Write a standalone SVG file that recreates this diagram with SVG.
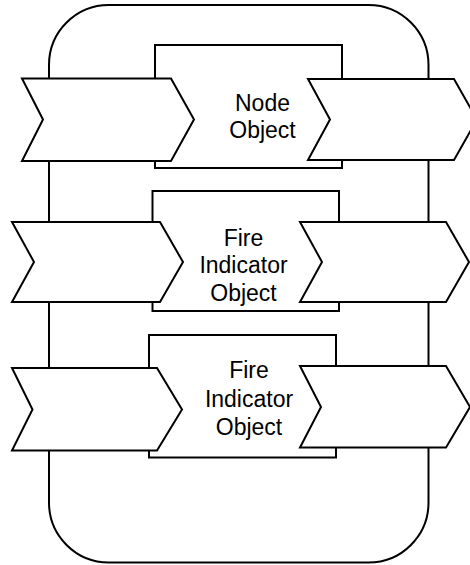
<svg xmlns="http://www.w3.org/2000/svg" width="470" height="565" viewBox="0 0 470 565">
<style>
.s{fill:#fff;stroke:#000;stroke-width:2;stroke-linejoin:miter}
.t{font-family:"Liberation Sans",Arial,sans-serif;font-size:23px;fill:#000;text-anchor:middle}
</style>
<rect width="470" height="565" fill="#fff"/>
<g id="container">
<rect class="s" x="49" y="5" width="379.5" height="557.5" rx="60" ry="60"/>
</g>
<g id="node-object">
<rect class="s" x="155" y="45" width="187" height="123"/>
<text class="t" x="262.5" y="110.5">Node</text>
<text class="t" x="262.5" y="138">Object</text>
</g>
<g id="fire-indicator-1">
<rect class="s" x="152.5" y="191" width="186.5" height="120"/>
<text class="t" x="243.5" y="245.5">Fire</text>
<text class="t" x="243.5" y="273.3">Indicator</text>
<text class="t" x="243.5" y="301">Object</text>
</g>
<g id="fire-indicator-2">
<rect class="s" x="149" y="335" width="187" height="122.5"/>
<text class="t" x="249" y="378.3">Fire</text>
<text class="t" x="249" y="406.7">Indicator</text>
<text class="t" x="249" y="435">Object</text>
</g>
<g id="in-port-1"><polygon class="s" points="22,78.5 171,78.5 194,119.5 171,161 22,161 43,119.5"/></g>
<g id="out-port-1"><polygon class="s" points="308,79 454,79 477,119.5 454,160 308,160 330,119.5"/></g>
<g id="in-port-2"><polygon class="s" points="12,222 160,222 183,262 160,302 12,302 34,262"/></g>
<g id="out-port-2"><polygon class="s" points="300,222 446,222 469,262 446,302 300,302 322,262"/></g>
<g id="in-port-3"><polygon class="s" points="12,368 157,368 182,409.5 157,450.5 12,450.5 32.5,409.5"/></g>
<g id="out-port-3"><polygon class="s" points="300,366 446,366 470,407 446,447.5 300,447.5 321,407"/></g>
</svg>
